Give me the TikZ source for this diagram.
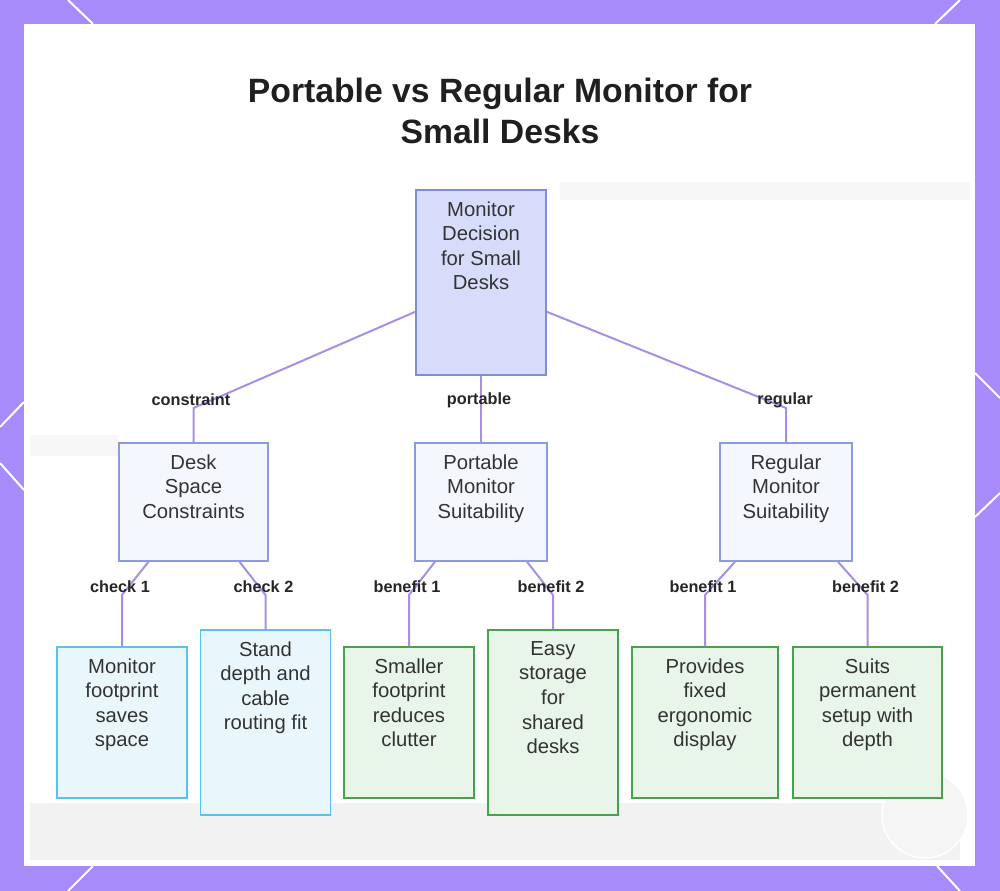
\documentclass[tikz,border=0pt]{standalone}
\usepackage{fontspec}
\setmainfont{Liberation Sans}
\usepackage{xcolor}
\usetikzlibrary{positioning,calc}
\definecolor{framepurple}{HTML}{A78BFA}
\definecolor{linkpurple}{HTML}{A98EE6}
\definecolor{inktext}{HTML}{333333}
\definecolor{rootfill}{HTML}{D8DCFB}
\definecolor{rootdraw}{HTML}{7E8CD9}
\definecolor{groupfill}{HTML}{F5F7FF}
\definecolor{groupdraw}{HTML}{8C9BE0}
\definecolor{checkfill}{HTML}{E9F7FD}
\definecolor{checkdraw}{HTML}{56C4E6}
\definecolor{benefitfill}{HTML}{E8F5E9}
\definecolor{benefitdraw}{HTML}{45A34C}
\newcommand{\px}[1]{#1*0.75pt}
\tikzset{
boxtext/.style={
anchor=north,
align=center,
text=inktext,
font=\fontsize{15.2}{18.4}\selectfont,
inner sep=5pt,
yshift=-4pt
},
rootbox/.style={
draw=rootdraw,
fill=rootfill,
line width=1.2pt,
minimum width=\px{130},
minimum height=\px{185}
},
groupbox/.style={
draw=groupdraw,
fill=groupfill,
line width=1.2pt,
minimum width=\px{#1},
minimum height=\px{118}
},
checkbox/.style={
draw=checkdraw,
fill=checkfill,
line width=1.2pt,
minimum width=\px{130},
minimum height=\px{#1}
},
benefitbox/.style={
draw=benefitdraw,
fill=benefitfill,
line width=1.2pt,
minimum width=\px{130},
minimum height=\px{#1}
},
link/.style={
draw=linkpurple,
line width=1.5pt
},
edgelabel/.style={
font=\fontsize{12.2}{14}\selectfont\bfseries,
text=black!85,
inner sep=1pt
}
}

\begin{document}
\begin{tikzpicture}[x=0.75pt,y=-0.75pt]
\useasboundingbox (0,0) rectangle (1000,891);
% frame and panel
\fill[framepurple] (0,0) rectangle (1000,891);
\fill[white] (24,24) rectangle (975,866);
\draw[white,line width=1.5pt] (68,0) -- (93,24);
\draw[white,line width=1.5pt] (960,0) -- (935,24);
\draw[white,line width=1.5pt] (24,402) -- (0,427);
\draw[white,line width=1.5pt] (0,463) -- (24,490);
\draw[white,line width=1.5pt] (975,373) -- (1000,398);
\draw[white,line width=1.5pt] (1000,493) -- (975,517);
\draw[white,line width=1.5pt] (93,866) -- (68,891);
\draw[white,line width=1.5pt] (937,866) -- (960,891);
% faint background
\fill[black!5] (30,803) rectangle (960,860);
\fill[black!3] (560,182) rectangle (970,200);
\fill[black!3] (30,435) rectangle (118,456);
\draw[white,line width=1pt,fill=black!4] (925,815) circle (43);

% title
\node[align=center,text=black!88,font=\fontsize{25.3}{31}\selectfont\bfseries] (title) at (500,111) {Portable vs Regular Monitor for\\Small Desks};

% nodes
\node[rootbox,label={[boxtext]north:Monitor\\Decision\\for Small\\Desks}] (root) at (481,282.5) {};
\node[groupbox=149,label={[boxtext]north:Desk\\Space\\Constraints}] (desk) at (193.5,502) {};
\node[groupbox=132,label={[boxtext]north:Portable\\Monitor\\Suitability}] (portable) at (481,502) {};
\node[groupbox=132,label={[boxtext]north:Regular\\Monitor\\Suitability}] (regular) at (786,502) {};
\node[checkbox=151,label={[boxtext]north:Monitor\\footprint\\saves\\space}] (n1) at (122,722.5) {};
\node[checkbox=185,label={[boxtext]north:Stand\\depth and\\cable\\routing fit}] (n2) at (265.5,722.5) {};
\node[benefitbox=151,label={[boxtext]north:Smaller\\footprint\\reduces\\clutter}] (n3) at (409,722.5) {};
\node[benefitbox=185,label={[boxtext]north:Easy\\storage\\for\\shared\\desks}] (n4) at (553,722.5) {};
\node[benefitbox=151,minimum width=\px{146},label={[boxtext]north:Provides\\fixed\\ergonomic\\display}] (n5) at (705,722.5) {};
\node[benefitbox=151,minimum width=\px{149},label={[boxtext]north:Suits\\permanent\\setup with\\depth}] (n6) at (867.5,722.5) {};

% top links
\coordinate (kdesk) at (193.5,408);
\coordinate (kreg) at (786,408);
\draw[link] (root.204) -- (kdesk) -- (desk.north);
\draw[link] (root.south) -- (portable.north);
\draw[link] (root.-24) -- (kreg) -- (regular.north);
\node[edgelabel] (lconstraint) at (191,400) {constraint};
\node[edgelabel] (lportable) at (479,400) {portable};
\node[edgelabel] (lregular) at (785,400) {regular};

% lower links
\foreach \p/\c/\dx/\t in {desk/n1/-45/check 1,desk/n2/46/check 2,portable/n3/-46/benefit 1,portable/n4/46/benefit 2,regular/n5/-51/benefit 1,regular/n6/52/benefit 2}{
\draw[link] ([xshift=\px{\dx}]\p.south) -- (\c.north |- 0,595) -- (\c.north);
\node[edgelabel] at ($(\c.north |- 0,587)+(-2,0)$) {\t};
}
\end{tikzpicture}
\end{document}
